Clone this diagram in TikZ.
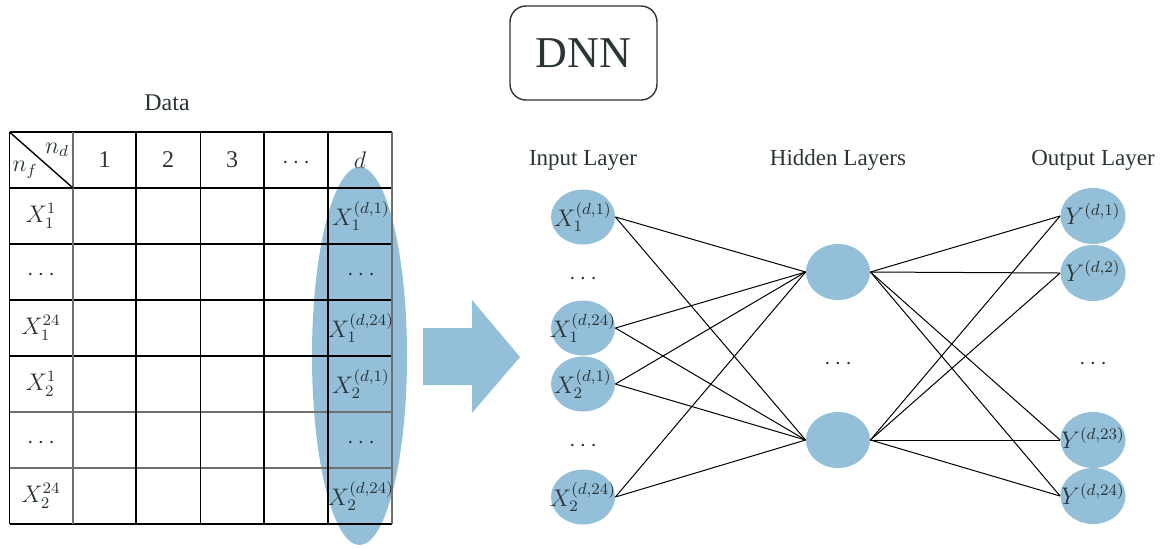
\documentclass[tikz,border=0pt]{standalone}
\usepackage{fontspec}
\setmainfont{Liberation Serif}
\usetikzlibrary{shapes.geometric}
\definecolor{nblue}{HTML}{93BFD9}
\definecolor{txt}{HTML}{2B3538}
\definecolor{gline}{HTML}{707070}
\begin{document}
\begin{tikzpicture}[x=0.5pt,y=-0.5pt,
  lbl/.style={text=txt, font=\fontsize{11.5}{13}\selectfont, inner sep=0pt},
  cell/.style={text=txt, font=\fontsize{12}{14}\selectfont, inner sep=0pt},
  neuron/.style={ellipse, fill=nblue, minimum width=32pt, minimum height=27.5pt, inner sep=0pt},
  nl/.style={text=txt, font=\fontsize{12}{14}\selectfont, inner sep=0pt},
  edge/.style={draw=black, line width=0.5pt},
  bline/.style={draw=black, line width=0.7pt},
  gl/.style={draw=gline, line width=0.6pt}]
\useasboundingbox (0,0) rectangle (1171,548);
% DNN box
\node[draw=txt, line width=0.7pt, rounded corners=8pt, minimum width=73.5pt, minimum height=47pt, text=txt, font=\fontsize{22}{26}\selectfont] (dnn) at (583.5,53) {DNN};
% Data title
\node[lbl, font=\fontsize{12}{14}\selectfont] (data) at (167,103) {Data};
% highlight ellipse
\fill[nblue] (359.5,356) ellipse [x radius=47.5, y radius=189];
% table grid
\foreach \y in {132,188,244,300,356,524} \draw[bline] (9.5,\y) -- (392,\y);
\foreach \y in {412,468} \draw[gl] (9.5,\y) -- (392,\y);
\foreach \x in {9.5,136,200.5,264,328} \draw[bline] (\x,132) -- (\x,524);
\foreach \x in {73,392} \draw[gl] (\x,132) -- (\x,524);
\draw[bline] (9.5,132) -- (73,188);
% header texts
\node[cell] (nd) at (57,150) {$n_d$};
\node[cell] (nf) at (25,170) {$n_f$};
\node[cell] (h1) at (104.5,160) {1};
\node[cell] (h2) at (168,160) {2};
\node[cell] (h3) at (232,160) {3};
\node[cell] (h4) at (296,163) {$\cdots$};
\node[cell] (h5) at (360,160) {$d$};
% row labels
\node[cell] (r1) at (41,216) {$X_1^1$};
\node[cell] (r2) at (41,275) {$\cdots$};
\node[cell] (r3) at (41,328) {$X_1^{24}$};
\node[cell] (r4) at (41,384) {$X_2^1$};
\node[cell] (r5) at (41,443) {$\cdots$};
\node[cell] (r6) at (41,496) {$X_2^{24}$};
% column d labels
\node[cell] (d1) at (361,216) {$X_1^{(d,1)}$};
\node[cell] (d2) at (361,275) {$\cdots$};
\node[cell] (d3) at (361,328) {$X_1^{(d,24)}$};
\node[cell] (d4) at (361,384) {$X_2^{(d,1)}$};
\node[cell] (d5) at (361,443) {$\cdots$};
\node[cell] (d6) at (361,496) {$X_2^{(d,24)}$};
% big arrow
\fill[nblue] (423,328) -- (472,328) -- (472,300) -- (520,357) -- (472,413) -- (472,385) -- (423,385) -- cycle;
% layer titles
\node[lbl] (tin) at (583,160) {Input Layer};
\node[lbl] (thid) at (838,160) {Hidden Layers};
\node[lbl] (tout) at (1093,160) {Output Layer};
% input nodes
\node[neuron] (i1) at (583,217) {};
\node[neuron] (i2) at (583,328) {};
\node[neuron] (i3) at (583,384) {};
\node[neuron] (i4) at (583,497) {};
\node[nl] (i1t) at (583,217) {$X_1^{(d,1)}$};
\node[nl] (i2t) at (583,328) {$X_1^{(d,24)}$};
\node[nl] (i3t) at (583,384) {$X_2^{(d,1)}$};
\node[nl] (i4t) at (583,497) {$X_2^{(d,24)}$};
\node[cell] (id1) at (583,279) {$\cdots$};
\node[cell] (id2) at (583,446) {$\cdots$};
% hidden nodes
\node[neuron, minimum height=28pt] (n1) at (838,272) {};
\node[neuron, minimum height=28pt] (n2) at (838,440) {};
\node[cell] (nd1) at (838,364) {$\cdots$};
% output nodes
\node[neuron, minimum width=32.5pt, minimum height=28pt] (o1) at (1093,216) {};
\node[neuron, minimum width=32.5pt, minimum height=28pt] (o2) at (1093,273) {};
\node[neuron, minimum width=32.5pt, minimum height=28pt] (o3) at (1093,440) {};
\node[neuron, minimum width=32.5pt, minimum height=28pt] (o4) at (1093,496) {};
\node[nl] (o1t) at (1093,214) {$Y^{(d,1)}$};
\node[nl] (o2t) at (1093,271) {$Y^{(d,2)}$};
\node[nl] (o3t) at (1093,438) {$Y^{(d,23)}$};
\node[nl] (o4t) at (1093,494) {$Y^{(d,24)}$};
\node[cell] (od1) at (1093,364) {$\cdots$};
% connections
\foreach \i in {i1,i2,i3,i4} \foreach \h in {n1,n2} \draw[edge] (\i.east) -- (\h.west);
\foreach \h in {n1,n2} \foreach \o in {o1,o2,o3,o4} \draw[edge] (\h.east) -- (\o.west);
\end{tikzpicture}
\end{document}
